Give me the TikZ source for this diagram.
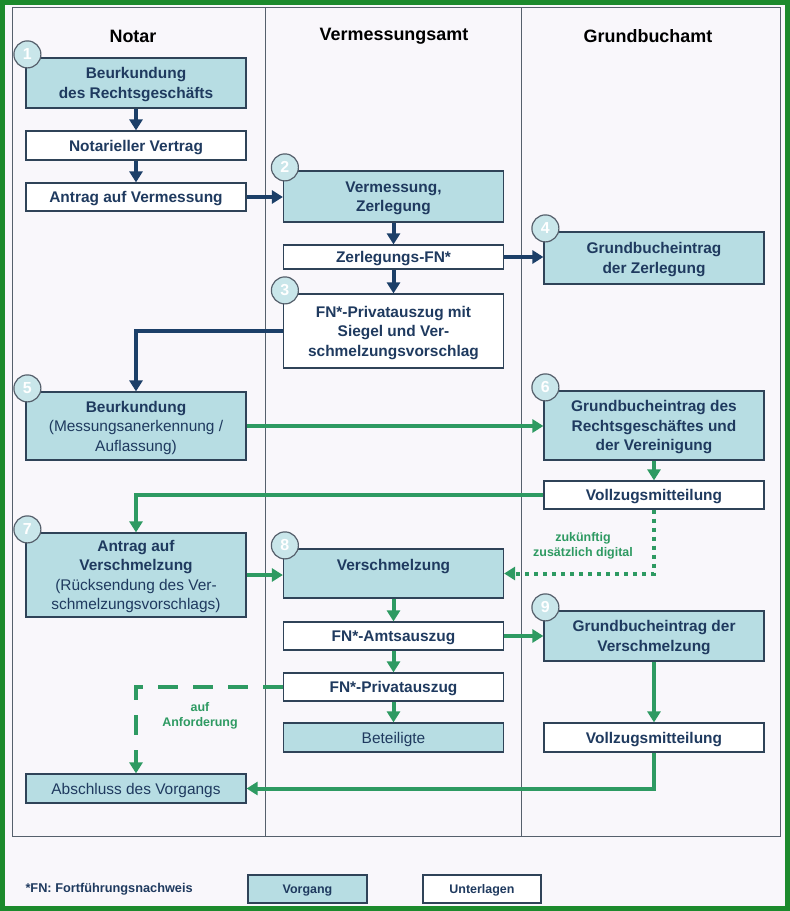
\documentclass[tikz,border=0pt]{standalone}
\usepackage{fontspec}
\setmainfont{Liberation Sans}
\usetikzlibrary{arrows.meta}

\definecolor{bgpaper}{HTML}{F9F7FB}
\definecolor{boxfill}{HTML}{B7DDE3}
\definecolor{boxline}{HTML}{2F4358}
\definecolor{boxtext}{HTML}{1F3A5F}
\definecolor{darkflow}{HTML}{1C3F68}
\definecolor{greenflow}{HTML}{2E9A62}
\definecolor{outerframe}{HTML}{1C8A2C}
\definecolor{gridline}{HTML}{56606C}

\tikzset{
    unterlage/.style={draw=boxline, line width=1.2bp, fill=white, minimum width=220bp,
        inner sep=0pt, align=center, text=boxtext, text depth=-5bp,
        font=\fontsize{15.5}{19.5}\selectfont\bfseries},
    vorgang/.style={unterlage, fill=boxfill},
    lighttext/.style={font=\fontsize{15.5}{19.5}\selectfont},
    numcirc/.style={circle, draw=gridline, line width=1.2bp, fill=boxfill!75!white,
        minimum size=27bp, inner sep=0pt, text=white,
        font=\fontsize{16}{16}\selectfont\bfseries},
    darkarrow/.style={draw=darkflow, line width=4bp, -{Triangle[length=11bp,width=13bp]}},
    greenarrow/.style={draw=greenflow, line width=4bp, -{Triangle[length=11bp,width=13bp]}},
    greennote/.style={align=center, text=greenflow, font=\fontsize{12.5}{15}\selectfont\bfseries},
}

\begin{document}
\begin{tikzpicture}[x=1bp, y=-1bp]

% paper and frame
\useasboundingbox (0,0) rectangle (790,911);
\fill[bgpaper] (0,0) rectangle (790,911);
\draw[outerframe, line width=5bp] (2.5,2.5) rectangle (787.5,908.5);

% columns
\draw[gridline, line width=1bp] (12,7) rectangle (780,836);
\foreach \x in {265,521}
    \draw[gridline, line width=1bp] (\x,7) -- (\x,836);

\node[font=\fontsize{18}{20}\selectfont\bfseries] (hnotar) at (133,36) {Notar};
\node[font=\fontsize{18}{20}\selectfont\bfseries] (hamt)   at (394,36) {Vermessungsamt};
\node[font=\fontsize{18}{20}\selectfont\bfseries] (hgba)   at (648,36) {Grundbuchamt};

% Notar
\node[vorgang, minimum height=50bp]   (n1)     at (136,83)    {Beurkundung\\des Rechtsgeschäfts};
\node[unterlage, minimum height=29bp] (vertrag) at (136,145.5) {Notarieller Vertrag};
\node[unterlage, minimum height=28bp] (antrag) at (136,197)   {Antrag auf Vermessung};
\node[vorgang, lighttext, minimum height=68bp] (n5) at (136,426)
    {\textbf{Beurkundung}\\(Messungsanerkennung /\\Auflassung)};
\node[vorgang, lighttext, minimum height=84bp] (n7) at (136,575)
    {\textbf{Antrag auf}\\\textbf{Verschmelzung}\\(Rücksendung des Ver-\\schmelzungsvorschlags)};
\node[vorgang, lighttext, minimum height=29bp] (abschluss) at (136,788.5) {Abschluss des Vorgangs};

% Vermessungsamt
\node[vorgang, minimum height=51bp]   (n2)   at (393.5,196.5) {Vermessung,\\Zerlegung};
\node[unterlage, minimum height=24bp] (zfn)  at (393.5,257)   {Zerlegungs-FN*};
\node[unterlage, minimum height=74bp] (n3)   at (393.5,331)   {FN*-Privatauszug mit\\Siegel und Ver-\\schmelzungsvorschlag};
\node[vorgang, minimum height=49bp, text depth=0pt] (n8) at (393.5,573.5) {Verschmelzung\\[-3bp]~};
\node[unterlage, minimum height=28bp] (amts) at (393.5,636)   {FN*-Amtsauszug};
\node[unterlage, minimum height=28bp] (priv) at (393.5,687)   {FN*-Privatauszug};
\node[vorgang, lighttext, minimum height=29bp] (beteiligte) at (393.5,737.5) {Beteiligte};

% Grundbuchamt
\node[vorgang, minimum height=52bp]   (n4)    at (654,258)   {Grundbucheintrag\\der Zerlegung};
\node[vorgang, minimum height=69bp]   (n6)    at (654,425.5) {Grundbucheintrag des\\Rechtsgeschäftes und\\der Vereinigung};
\node[unterlage, minimum height=28bp] (voll1) at (654,495)   {Vollzugsmitteilung};
\node[vorgang, minimum height=50bp]   (n9)    at (654,636)   {Grundbucheintrag der\\Verschmelzung};
\node[unterlage, minimum height=29bp] (voll2) at (654,737.5) {Vollzugsmitteilung};

% step numbers
\foreach \b/\n in {n1/1,n2/2,n3/3,n4/4,n5/5,n6/6,n7/7,n8/8,n9/9}
    \node[numcirc] (c\n) at ([shift={(2,-3)}]\b.north west) {\n};

% first part
\draw[darkarrow] (n1) -- (vertrag);
\draw[darkarrow] (vertrag) -- (antrag);
\draw[darkarrow] (antrag.east) -- (antrag.east -| n2.west);
\draw[darkarrow] (n2) -- (zfn);
\draw[darkarrow] (zfn) -- (n3);
\draw[darkarrow] (zfn.east) -- (zfn.east -| n4.west);
\draw[darkarrow] (n3.west) -| (n5.north);

% second part
\draw[greenarrow] (n5.east) -- (n5.east -| n6.west);
\draw[greenarrow] (n6) -- (voll1);
\draw[greenarrow] (voll1.west) -| (n7.north);
\draw[greenarrow] (n7.east) -- (n7.east -| n8.west);
\draw[greenarrow, dash pattern=on 4bp off 5bp] (voll1.south) |- (n8.east);
\draw[greenarrow] (n8) -- (amts);
\draw[greenarrow] (amts) -- (priv);
\draw[greenarrow] (priv) -- (beteiligte);
\draw[greenarrow] (amts.east) -- (amts.east -| n9.west);
\draw[greenarrow] (n9) -- (voll2);
\draw[greenarrow] (voll2.south) |- (abschluss.east);
\draw[greenarrow, dash pattern=on 20bp off 15bp] (priv.west) -| (abschluss.north);

% notes
\node[greennote] (digital) at (583,546) {zukünftig\\zusätzlich digital};
\node[greennote] (anford)  at (200,716) {auf\\Anforderung};

% legend
\node[anchor=west, text=boxtext, font=\fontsize{12.8}{15}\selectfont\bfseries] (fn) at (22,889)
    {*FN: Fortführungsnachweis};
\node[vorgang, minimum width=119bp, minimum height=28bp, text depth=-2bp,
    font=\fontsize{12.5}{15}\selectfont\bfseries] (legvorgang) at (307.5,889) {Vorgang};
\node[unterlage, minimum width=118bp, minimum height=28bp, text depth=-2bp,
    font=\fontsize{12.5}{15}\selectfont\bfseries] (legunterlage) at (482,889) {Unterlagen};

\end{tikzpicture}
\end{document}
